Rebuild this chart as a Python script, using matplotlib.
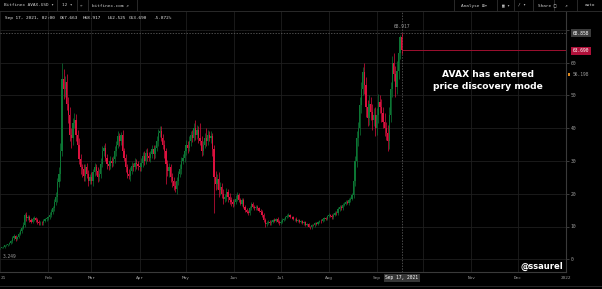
import numpy as np
import matplotlib
matplotlib.use("Agg")
import matplotlib.pyplot as plt
from matplotlib.lines import Line2D
from matplotlib.patches import Rectangle

# daily closes AVAX-USD 2021
jan_close = [3.4, 3.6, 3.8, 4.3, 4.4, 4.6, 4.9, 5.5, 6.5, 7.0, 6.2, 6.8, 7.8, 8.5, 9.6, 10.5,
             13.6, 12.5, 12.8, 12.0, 11.5, 12.2, 12.6, 12.0, 11.5, 11.0, 11.2, 11.0, 11.8, 12.2, 12.5]
feb_close = [12.8, 13.5, 14.5, 15.5, 17.5, 19.0, 23.5, 26.0, 33.0, 55.0, 52.0, 54.0, 47.5, 44.0,
             38.0, 37.0, 41.5, 42.5, 38.0, 35.0, 30.5, 28.0, 27.5, 25.5, 28.0, 26.0, 24.0, 25.0]
mar_close = [24.0, 26.5, 28.0, 27.0, 25.0, 26.0, 29.0, 33.0, 34.0, 31.0, 29.0, 28.5, 30.0, 29.5,
             30.5, 33.0, 35.0, 37.5, 36.0, 38.0, 33.0, 31.0, 28.0, 26.0, 25.5, 27.0, 28.5, 28.0,
             29.5, 29.0, 28.5]
apr_close = [28.0, 29.5, 31.5, 30.0, 32.5, 31.5, 31.0, 32.0, 33.5, 32.0, 34.0, 36.0, 38.5, 39.0,
             37.0, 35.0, 33.0, 29.0, 27.0, 28.0, 25.0, 24.0, 22.5, 21.5, 24.0, 26.0, 27.5, 30.0,
             31.0, 33.0]
may_close = [35.0, 34.0, 36.0, 38.0, 37.0, 40.0, 38.0, 39.5, 37.0, 36.0, 33.0, 35.0, 37.0, 36.0,
             38.0, 37.0, 37.5, 33.5, 25.0, 23.0, 24.5, 21.0, 22.0, 20.0, 18.5, 19.0, 20.5, 19.0,
             18.0, 17.5, 17.0]
jun_close = [17.5, 18.5, 19.5, 18.0, 17.0, 18.0, 16.0, 15.0, 14.5, 14.0, 15.5, 17.0, 16.0, 15.5,
             16.0, 15.5, 14.8, 14.5, 13.5, 12.0, 10.8, 11.2, 11.5, 11.0, 11.5, 12.0, 11.8, 12.3,
             11.5, 11.0]
jul_close = [11.5, 12.0, 12.3, 12.8, 13.2, 13.5, 12.8, 12.9, 12.2, 12.4, 11.8, 11.9, 11.4, 11.6,
             11.0, 11.3, 10.6, 10.8, 10.0, 9.7, 10.5, 10.4, 11.0, 10.9, 11.4, 11.8, 11.6, 12.2,
             12.5, 12.3, 13.2]
aug_close = [13.5, 13.3, 12.8, 13.5, 14.2, 14.0, 15.3, 16.0, 15.5, 16.5, 17.0, 17.5, 17.2, 18.0,
             18.5, 19.5, 24.0, 30.0, 37.0, 40.0, 47.0, 52.0, 57.0, 53.0, 46.5, 43.0, 47.5, 45.0,
             42.5, 44.0, 40.0]
sep_close = [44.0, 48.0, 46.5, 44.5, 42.0, 40.0, 38.5, 36.0, 44.0, 52.0, 60.0, 56.5, 52.5, 57.5,
             63.0, 67.663, 63.69]

# wick length above / below the body
jan_up = [0.1, 0.2, 0.3, 0.2, 0.3, 0.2, 0.3, 0.4, 0.5, 0.6, 0.5, 0.4, 0.5, 0.6, 0.5, 0.8, 0.5, 0.8,
          0.6, 0.7, 0.5, 0.6, 0.5, 0.4, 0.6, 0.5, 0.4, 0.5, 0.6, 0.5, 0.4]
jan_dn = [0.2, 0.1, 0.2, 0.3, 0.2, 0.3, 0.2, 0.3, 0.4, 0.5, 0.6, 0.4, 0.3, 0.4, 0.5, 0.4, 0.6, 0.7,
          0.5, 0.6, 0.5, 0.4, 0.6, 0.5, 0.7, 0.5, 0.4, 0.6, 0.5, 0.4, 0.5]
feb_up = [0.5, 0.8, 0.7, 0.9, 1.0, 1.5, 1.2, 2.0, 2.5, 5.0, 3.0, 2.0, 2.5, 2.0, 2.5, 2.0, 1.5, 2.0,
          1.8, 1.5, 2.0, 1.5, 1.2, 1.5, 1.0, 1.5, 1.2, 1.0]
feb_dn = [0.4, 0.5, 0.6, 0.8, 0.7, 1.0, 1.5, 1.5, 2.0, 1.5, 3.0, 2.5, 2.0, 2.5, 2.0, 3.0, 2.0, 1.5,
          2.0, 2.5, 1.5, 2.0, 2.5, 1.5, 1.5, 1.2, 1.5, 1.0]
mar_up = [1.5, 1.0, 1.5, 1.2, 1.0, 1.5, 2.0, 1.5, 1.0, 1.5, 1.2, 1.0, 1.5, 1.2, 1.0, 1.5, 1.0, 1.5,
          1.0, 0.8, 1.5, 1.0, 1.2, 1.0, 1.5, 1.0, 1.2, 1.0, 1.5, 1.2, 1.0]
mar_dn = [1.0, 1.5, 1.0, 1.2, 1.5, 1.0, 1.2, 1.0, 1.5, 1.0, 1.5, 1.2, 1.0, 1.5, 1.0, 1.2, 1.5, 1.0,
          1.5, 1.2, 1.5, 1.0, 1.5, 1.2, 1.0, 1.5, 1.0, 1.2, 1.0, 1.5, 1.2]
apr_up = [1.0, 1.5, 1.2, 1.5, 1.0, 1.5, 1.2, 1.0, 1.5, 1.2, 1.0, 1.5, 1.2, 1.5, 1.5, 1.2, 1.5, 1.0,
          1.2, 1.5, 1.0, 1.2, 1.0, 1.5, 1.2, 1.0, 1.5, 1.2, 1.0, 1.5]
apr_dn = [1.2, 1.0, 1.5, 1.2, 1.0, 1.5, 1.0, 1.2, 1.0, 1.5, 1.2, 1.0, 1.5, 1.2, 1.0, 1.5, 2.0, 6.0,
          1.5, 2.0, 1.5, 2.0, 1.5, 1.0, 1.5, 1.2, 1.0, 1.5, 1.0, 1.2]
may_up = [1.5, 1.0, 1.5, 1.2, 1.5, 1.5, 2.5, 1.5, 1.2, 4.5, 1.5, 1.2, 1.5, 3.0, 1.5, 1.2, 1.5, 1.0,
          1.5, 2.0, 1.5, 2.0, 1.5, 1.2, 1.5, 1.0, 1.2, 1.0, 1.2, 1.0, 1.0]
may_dn = [1.2, 1.5, 1.0, 1.5, 1.2, 1.0, 1.5, 1.2, 1.5, 1.0, 1.5, 1.2, 1.0, 1.5, 1.2, 1.0, 1.5, 2.0,
          11.0, 2.0, 1.5, 2.0, 1.5, 1.2, 1.5, 1.0, 1.2, 1.5, 1.0, 1.2, 1.0]
jun_up = [0.8, 1.0, 1.0, 0.8, 0.6, 0.8, 0.6, 0.5, 0.6, 0.5, 0.8, 0.6, 0.5, 0.6, 0.5, 0.6, 0.5, 0.4,
          0.5, 0.6, 0.5, 0.4, 0.5, 0.4, 0.5, 0.4, 0.5, 0.4, 0.5, 0.4]
jun_dn = [0.6, 0.5, 0.8, 0.6, 0.5, 0.6, 0.5, 0.6, 0.5, 0.6, 0.5, 0.6, 0.5, 0.6, 0.5, 0.6, 0.5, 0.6,
          0.5, 0.6, 0.8, 0.5, 0.4, 0.5, 0.4, 0.5, 0.4, 0.5, 0.4, 0.5]
jul_up = [0.4, 0.5, 0.4, 0.5, 0.6, 0.5, 0.4, 0.3, 0.4, 0.3, 0.4, 0.3, 0.4, 0.3, 0.4, 0.3, 0.4, 0.3,
          0.4, 0.3, 0.4, 0.3, 0.4, 0.3, 0.4, 0.3, 0.4, 0.3, 0.4, 0.5, 0.4]
jul_dn = [0.3, 0.4, 0.3, 0.4, 0.3, 0.4, 0.3, 0.4, 0.3, 0.4, 0.3, 0.4, 0.3, 0.4, 0.3, 0.4, 0.3, 0.4,
          0.3, 0.5, 0.4, 0.3, 0.4, 0.3, 0.4, 0.3, 0.4, 0.3, 0.4, 0.3, 0.4]
aug_up = [0.5, 0.4, 0.5, 0.6, 0.5, 0.6, 0.5, 0.6, 0.5, 0.6, 0.5, 0.6, 0.5, 0.6, 0.5, 0.8, 1.0, 1.5,
          2.0, 2.0, 2.5, 2.0, 1.6, 3.0, 2.5, 2.0, 2.5, 2.0, 2.5, 2.0, 2.5]
aug_dn = [0.4, 0.5, 0.4, 0.5, 0.4, 0.5, 0.4, 0.5, 0.4, 0.5, 0.4, 0.5, 0.4, 0.5, 0.4, 0.5, 0.8, 1.5,
          2.0, 2.5, 2.0, 2.5, 2.0, 2.5, 3.0, 2.5, 2.0, 2.5, 3.0, 2.0, 2.5]
sep_up = [2.0, 2.5, 2.0, 2.5, 2.0, 2.5, 2.0, 2.5, 2.5, 2.0, 2.0, 3.0, 2.5, 3.0, 2.0, 0.6, 1.254]
sep_dn = [2.0, 2.5, 2.0, 2.5, 2.0, 2.5, 2.0, 3.0, 2.5, 2.0, 2.5, 2.0, 3.0, 2.0, 2.5, 2.0, 1.165]

first_open = 3.3
month_names = ["21", "Feb", "Mar", "Apr", "May", "Jun", "Jul", "Aug", "Sep", "Oct", "Nov", "Dec", "2022"]
month_start = [0, 31, 59, 90, 120, 151, 181, 212, 243, 273, 304, 334, 365]
price_ticks = [0, 10, 20, 30, 40, 50, 60]

closes = np.array(jan_close + feb_close + mar_close + apr_close + may_close + jun_close +
                  jul_close + aug_close + sep_close)
ups = np.array(jan_up + feb_up + mar_up + apr_up + may_up + jun_up + jul_up + aug_up + sep_up)
dns = np.array(jan_dn + feb_dn + mar_dn + apr_dn + may_dn + jun_dn + jul_dn + aug_dn + sep_dn)
opens = np.concatenate([[first_open], closes[:-1]])
days = np.arange(len(closes))
highs = np.maximum(opens, closes) + ups
lows = np.minimum(opens, closes) - dns

W, H = 602, 289
fig = plt.figure(figsize=(W / 100, H / 100), dpi=100, facecolor="black")

def fx(x):
    return x / W

def fy(y):
    return 1 - y / H

mono = ["DejaVu Sans Mono", "DejaVu Sans"]
grey = "#9a9a9a"
up_col = "#0c7634"
dn_col = "#dc113e"

# chart area
ax_top, ax_bot, ax_right = 11, 271.5, 566
ax = fig.add_axes([0, fy(ax_bot), fx(ax_right), (ax_bot - ax_top) / H])
ax.set_facecolor("black")
ax.set_xlim((0 + 1.4) / 1.56, (ax_right + 1.4) / 1.56)
ax.set_ylim((259.3 - ax_bot) / 3.28, (259.3 - ax_top) / 3.28)

ax.set_xticks(month_start)
ax.set_yticks(price_ticks + [70])
ax.grid(True, color="#1f1f1f", lw=0.6)
ax.set_axisbelow(True)
ax.tick_params(axis="x", length=0, labelbottom=False)
ax.yaxis.tick_right()
ax.tick_params(axis="y", length=2, width=0.5, color="#555555", labelsize=3.4,
               labelcolor=grey, pad=1.2)
ax.set_yticklabels([str(p) for p in price_ticks] + [""])
for lab in ax.get_yticklabels():
    lab.set_family(mono)
for s in ["top", "left"]:
    ax.spines[s].set_visible(False)
ax.spines["right"].set_color("#3a3a3a")
ax.spines["bottom"].set_color("#3a3a3a")
ax.spines["right"].set_linewidth(0.8)
ax.spines["bottom"].set_linewidth(0.8)

# candles
cols = np.where(closes >= opens, up_col, dn_col)
ax.vlines(days, lows, highs, colors=cols, lw=0.5, zorder=3)
body = np.maximum(np.abs(closes - opens), 0.15)
ax.bar(days, body, bottom=np.minimum(opens, closes), width=0.8, color=cols, lw=0, zorder=4)

# crosshair and last price line
last = len(closes) - 1
ax.axvline(last, color="#6a6a6a", lw=0.5, ls=(0, (2, 2)), zorder=2)
ax.axhline(68.858, color="#6a6a6a", lw=0.5, ls=(0, (2, 2)), zorder=2)
ax.hlines(closes[-1], last, 400, color="#9e1030", lw=0.7, zorder=2)

xt = ax.get_xaxis_transform()
for name, d in zip(month_names, month_start):
    if name == "Oct":
        continue
    if name == "21":
        fig.text(fx(0.5), fy(277.7), name, ha="left", va="center", fontsize=3.2,
                 color=grey, family=mono)
        continue
    ax.text(d, -0.024, name, transform=xt, ha="center", va="center", fontsize=3.2,
            color=grey, family=mono, clip_on=False)

# date box on the time axis
ax.text(last, -0.024, "Sep 17, 2021", transform=xt, ha="center", va="center", fontsize=3.3,
        color="white", family=mono, clip_on=False,
        bbox=dict(boxstyle="square,pad=0.35", fc="#363636", ec="none"))

# price labels on the right
def price_tag(y, txt, fc, tc="white"):
    fig.text(fx(581), fy(y), txt, ha="center", va="center", fontsize=3.3, color=tc,
             family=mono, bbox=dict(boxstyle="square,pad=0.35", fc=fc, ec="none"))

price_tag(33.3, "68.858", "#3c3c3c")
price_tag(50.7, "63.690", "#b0103a")
fig.text(fx(573), fy(74.3), "56.198", ha="left", va="center", fontsize=3.3, color=grey, family=mono)
fig.patches.append(Rectangle((fx(568), fy(75.5)), 2 / W, 2.4 / H, transform=fig.transFigure,
                             fc="#e08a1e", ec="none"))

# high / low marks
ax.text(last, highs[-1] + 1.3, "68.917", ha="center", va="bottom", fontsize=3.3, color=grey,
        family=mono)
ax.text(1.9, 1.0, "3.249", ha="left", va="center", fontsize=3.3, color=grey, family=mono)

# annotation
fig.text(fx(488), fy(80.5), "AVAX has entered\nprice discovery mode", ha="center", va="center",
         fontsize=6.6, color="white", fontweight="bold", linespacing=1.35)
fig.text(fx(542), fy(266), "@ssaurel", ha="center", va="center", fontsize=6, color="white",
         fontweight="bold")

# toolbar
fig.lines.append(Line2D([0, 1], [fy(11), fy(11)], transform=fig.transFigure, color="#2a2a2a", lw=0.7))
fig.lines.append(Line2D([0, 1], [fy(286), fy(286)], transform=fig.transFigure, color="#2a2a2a", lw=0.7))
for sx in [57, 77, 88, 137, 454, 497, 514, 533, 554, 577]:
    fig.lines.append(Line2D([fx(sx), fx(sx)], [fy(0), fy(11)], transform=fig.transFigure,
                            color="#2a2a2a", lw=0.7))
tb = [(4, "Bitfinex AVAX-USD \u25be"), (62, "12 \u25be"), (80, "\u2606"), (92, "bitfinex.com \u2197"),
      (461, "Analyse \u229e\u25be"), (502, "\u25a6 \u25be"), (518, "\u2215 \u25be"),
      (538, "Share \u25a1"), (565, "\u2197"), (585, "auto")]
for tx, t in tb:
    fig.text(fx(tx), fy(5.5), t, ha="left", va="center", fontsize=3.2, color="#cfcfcf", family=mono)

legend = [(5, "Sep 17, 2021, 02:00"), (60, "O67.663"), (83, "H68.917"), (107, "L62.525"),
          (129, "C63.690"), (153, "-5.872%")]
for tx, t in legend:
    fig.text(fx(tx), fy(18.3), t, ha="left", va="center", fontsize=3.2, color="#e6e6e6", family=mono)

fig.savefig("out.png", dpi=100, facecolor="black")
